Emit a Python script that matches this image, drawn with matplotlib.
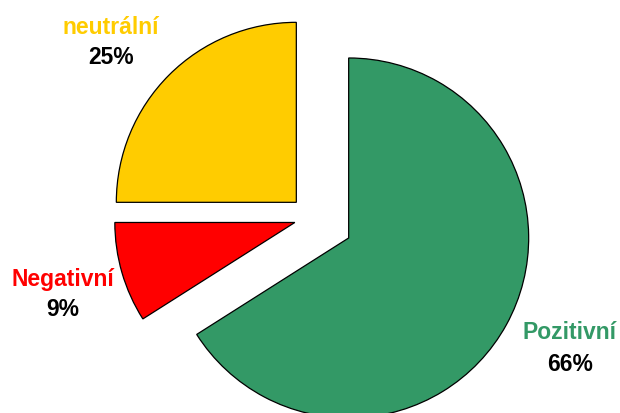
import matplotlib.pyplot as plt

# Podíl hodnocení
kategorie = ['Pozitivní', 'Negativní', 'neutrální']
hodnoty = [66, 9, 25]
barvy = ['#339966', '#FF0000', '#FFCC00']
vysunuti = [0.235, 0.097, 0.12]

plt.rcParams['font.family'] = ['Liberation Sans', 'DejaVu Sans']

W, H = 620, 414
fig = plt.figure(figsize=(W / 100, H / 100), dpi=100)
ax = fig.add_axes([0, 0, 1, 1])

ax.pie(hodnoty, colors=barvy, explode=vysunuti, startangle=90,
       counterclock=False, radius=1.0,
       wedgeprops=dict(edgecolor='black', linewidth=0.9))

# stred kolace v pixelech a polomer
cx, cy, r = 311.6, 218.6, 180.0
ax.set_xlim(-cx / r, (W - cx) / r)
ax.set_ylim(-(H - cy) / r, cy / r)
ax.set_aspect('equal')
ax.axis('off')

# pozice popisku (x stred, radek nazvu, radek procent) v pixelech
popisky = {
    'Pozitivní': (570, 339, 371),
    'Negativní': (63, 286, 316),
    'neutrální': (111, 34, 64),
}
for kat, val, col in zip(kategorie, hodnoty, barvy):
    x, y1, y2 = popisky[kat]
    fig.text(x / W, 1 - y1 / H, kat, color=col, fontsize=16.5,
             fontweight='bold', ha='center', va='baseline')
    fig.text(x / W, 1 - y2 / H, f'{val}%', color='black', fontsize=16.5,
             fontweight='bold', ha='center', va='baseline')

fig.savefig('out.png', dpi=100)
